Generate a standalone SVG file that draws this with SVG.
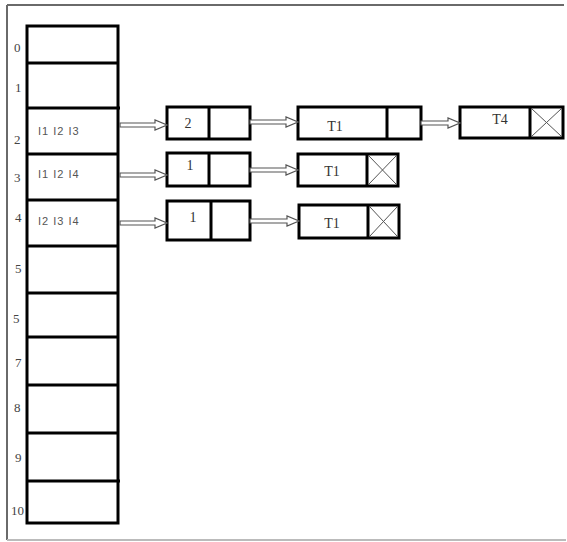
<svg xmlns="http://www.w3.org/2000/svg" width="567" height="542" viewBox="0 0 567 542">
<defs>
<style>
.frame{stroke:#6a6a6a;stroke-width:2;fill:none}
.tbl{fill:#fff;stroke:#000;stroke-width:3}
.div{stroke:#000;stroke-width:3}
.box{fill:#fff;stroke:#000;stroke-width:3}
.x{stroke:#555;stroke-width:1}
.idx{font-family:"Liberation Serif",serif;font-size:13px;fill:#444}
.lbl{font-family:"Liberation Serif",serif;font-size:14px;fill:#333;text-anchor:middle}
.cell{font-family:"Liberation Sans",sans-serif;font-size:11px;letter-spacing:1px;fill:#555}
.arr{fill:#fff;stroke:#555;stroke-width:1.2;stroke-linejoin:miter}
</style>
</defs>
<rect x="0" y="0" width="567" height="542" fill="#fff"/>
<g id="frame">
<line class="frame" x1="7" y1="5" x2="564" y2="5"/>
<line class="frame" x1="7" y1="5" x2="7" y2="540"/>
<line x1="7" y1="540" x2="566" y2="540" stroke="#bbb" stroke-width="2"/>
</g>
<g id="hashtable">
<rect class="tbl" x="27" y="26" width="91" height="497"/>
<line class="div" x1="27" y1="63" x2="118" y2="63"/>
<line class="div" x1="27" y1="108" x2="120" y2="108"/>
<line class="div" x1="27" y1="154" x2="118" y2="154"/>
<line class="div" x1="27" y1="200" x2="118" y2="200"/>
<line class="div" x1="27" y1="246" x2="118" y2="246"/>
<line class="div" x1="27" y1="293" x2="118" y2="293"/>
<line class="div" x1="27" y1="337" x2="118" y2="337"/>
<line class="div" x1="27" y1="385" x2="118" y2="385"/>
<line class="div" x1="27" y1="433" x2="118" y2="433"/>
<line class="div" x1="27" y1="481" x2="120" y2="481"/>
<text class="idx" x="14" y="52">0</text>
<text class="idx" x="15" y="92">1</text>
<text class="idx" x="14" y="144">2</text>
<text class="idx" x="14" y="182">3</text>
<text class="idx" x="15" y="222">4</text>
<text class="idx" x="15" y="273">5</text>
<text class="idx" x="13" y="323">5</text>
<text class="idx" x="15" y="367">7</text>
<text class="idx" x="14" y="412">8</text>
<text class="idx" x="15" y="462">9</text>
<text class="idx" x="11" y="515">10</text>
<text class="cell" x="38" y="135">I1 I2 I3</text>
<text class="cell" x="38" y="178">I1 I2 I4</text>
<text class="cell" x="38" y="225">I2 I3 I4</text>
</g>
<g id="count2">
<rect class="box" x="167" y="107" width="83" height="32"/>
<line class="div" x1="209" y1="107" x2="209" y2="139"/>
<text class="lbl" x="188" y="128">2</text>
</g>
<g id="count1a">
<rect class="box" x="167" y="153" width="83" height="33"/>
<line class="div" x1="209" y1="153" x2="209" y2="186"/>
<text class="lbl" x="190" y="170">1</text>
</g>
<g id="count1b">
<rect class="box" x="167" y="201" width="83" height="39"/>
<line class="div" x1="211" y1="201" x2="211" y2="240"/>
<text class="lbl" x="193" y="222">1</text>
</g>
<g id="t1a">
<rect class="box" x="298" y="107" width="123" height="32"/>
<line class="div" x1="387" y1="107" x2="387" y2="139"/>
<text class="lbl" x="335" y="131">T1</text>
</g>
<g id="t4">
<rect class="box" x="460" y="107" width="103" height="31"/>
<line class="div" x1="530" y1="107" x2="530" y2="138"/>
<line class="x" x1="532" y1="109" x2="561" y2="136"/>
<line class="x" x1="561" y1="109" x2="532" y2="136"/>
<text class="lbl" x="500" y="124">T4</text>
</g>
<g id="t1b">
<rect class="box" x="298" y="154" width="100" height="32"/>
<line class="div" x1="367" y1="154" x2="367" y2="186"/>
<line class="x" x1="369" y1="156" x2="396" y2="184"/>
<line class="x" x1="396" y1="156" x2="369" y2="184"/>
<text class="lbl" x="332" y="176">T1</text>
</g>
<g id="t1c">
<rect class="box" x="299" y="205" width="100" height="33"/>
<line class="div" x1="368" y1="205" x2="368" y2="238"/>
<line class="x" x1="370" y1="207" x2="397" y2="236"/>
<line class="x" x1="397" y1="207" x2="370" y2="236"/>
<text class="lbl" x="332" y="228">T1</text>
</g>
<g id="connectors">
<path class="arr" d="M120,123 H155 V120 L167,125 L155,130 V127 H120 Z"/>
<path class="arr" d="M120,173 H155 V170 L167,175 L155,180 V177 H120 Z"/>
<path class="arr" d="M120,221 H155 V218 L167,223 L155,228 V225 H120 Z"/>
<path class="arr" d="M250,120 H286 V117 L298,122 L286,127 V124 H250 Z"/>
<path class="arr" d="M250,168 H286 V165 L298,170 L286,175 V172 H250 Z"/>
<path class="arr" d="M250,219 H287 V216 L299,221 L287,226 V223 H250 Z"/>
<path class="arr" d="M421,121 H448 V118 L460,123 L448,128 V125 H421 Z"/>
</g>
</svg>
